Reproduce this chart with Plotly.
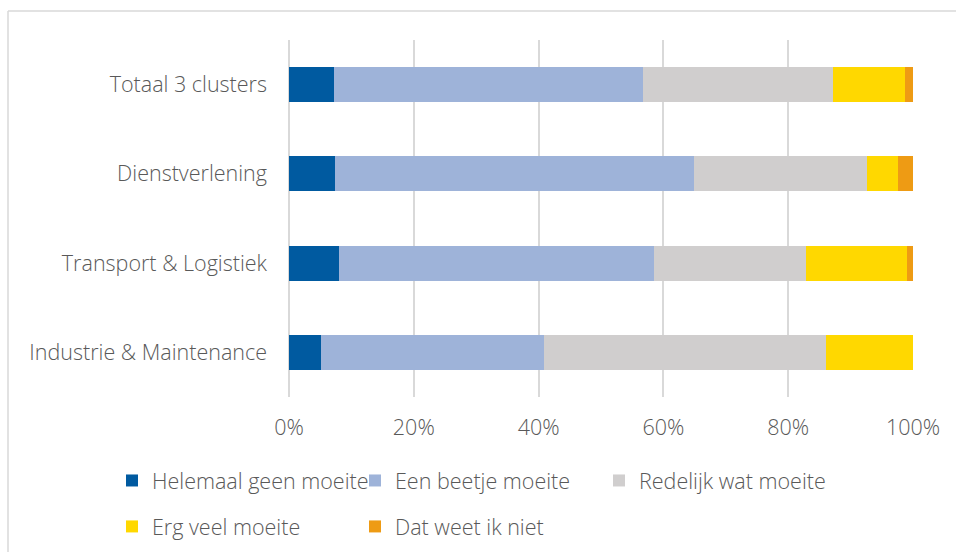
import plotly.graph_objects as go

# Categories listed bottom-to-top as they appear on the y axis
categories = [
    "Industrie & Maintenance",
    "Transport & Logistiek",
    "Dienstverlening",
    "Totaal 3 clusters",
]

# Share of respondents per answer (%)
helemaal_geen = [5.2, 8.0, 7.4, 7.2]
een_beetje = [35.6, 50.5, 57.5, 49.5]
redelijk_wat = [45.2, 24.4, 27.7, 30.5]
erg_veel = [14.0, 16.2, 5.0, 11.5]
weet_niet = [0.0, 0.9, 2.4, 1.3]

series_names = [
    "Helemaal geen moeite",
    "Een beetje moeite",
    "Redelijk wat moeite",
    "Erg veel moeite",
    "Dat weet ik niet",
]
series_values = [helemaal_geen, een_beetje, redelijk_wat, erg_veel, weet_niet]
colors = ["#005AA0", "#9EB3D9", "#D0CECE", "#FFD800", "#EE9B14"]
legend_ids = ["legend", "legend2", "legend3", "legend", "legend2"]

FONT = "'Open Sans', sans-serif"
FONT_SIZE = 21.5
FONT_WEIGHT = 300
TEXT_COLOR = "#595959"
GRID_COLOR = "#D9D9D9"
text_font = dict(family=FONT, size=FONT_SIZE, color=TEXT_COLOR, weight=FONT_WEIGHT)

fig = go.Figure()
for i, (name, vals, col, lg) in enumerate(zip(series_names, series_values, colors, legend_ids)):
    fig.add_trace(
        go.Bar(
            y=categories,
            x=vals,
            name=name,
            orientation="h",
            marker=dict(color=col, line=dict(width=0)),
            legend=lg,
            legendgroup=f"g{i}",
        )
    )

W, H = 956, 552
L, R, T, B = 289, 43, 40, 155
pw, ph = W - L - R, H - T - B


def px_x(p):
    return (p - L) / pw


def px_y(p):
    return (H - B - p) / ph


legend_common = dict(
    orientation="v",
    xanchor="left",
    yanchor="top",
    y=px_y(460),
    font=text_font,
    tracegroupgap=15,
    bgcolor="rgba(0,0,0,0)",
    itemclick=False,
)

frame_line = dict(color=GRID_COLOR, width=1.5)

fig.update_layout(
    width=W,
    height=H,
    margin=dict(l=L, r=R, t=T, b=B, pad=0, autoexpand=False),
    paper_bgcolor="white",
    plot_bgcolor="white",
    barmode="stack",
    bargap=0.61,
    showlegend=True,
    font=text_font,
    legend=dict(x=px_x(112), **legend_common),
    legend2=dict(x=px_x(355), **legend_common),
    legend3=dict(x=px_x(599), **legend_common),
    xaxis=dict(
        range=[0, 100],
        dtick=20,
        ticksuffix="%",
        showgrid=True,
        gridcolor=GRID_COLOR,
        gridwidth=1.5,
        zeroline=True,
        zerolinecolor=GRID_COLOR,
        zerolinewidth=1.5,
        showline=False,
        ticks="",
        ticklabelstandoff=15,
        tickfont=text_font,
        fixedrange=True,
    ),
    yaxis=dict(
        categoryorder="array",
        categoryarray=categories,
        showgrid=False,
        zeroline=False,
        showline=False,
        ticks="",
        ticklabelstandoff=21,
        tickfont=text_font,
        fixedrange=True,
    ),
    shapes=[
        # chart frame: top and left edges
        dict(type="line", xref="paper", yref="paper",
             x0=px_x(8), x1=px_x(W + 10), y0=px_y(11), y1=px_y(11), line=frame_line),
        dict(type="line", xref="paper", yref="paper",
             x0=px_x(8), x1=px_x(8), y0=px_y(11), y1=px_y(H + 10), line=frame_line),
    ],
)

fig.write_html("out.html")
